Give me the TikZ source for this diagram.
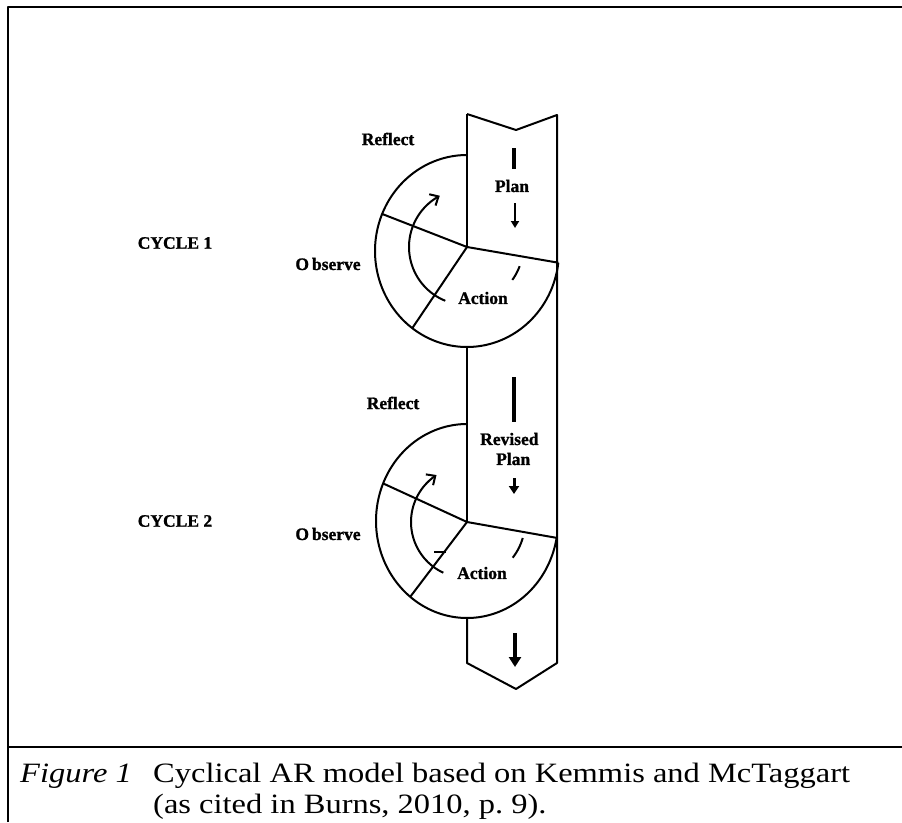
\documentclass[tikz,border=0pt]{standalone}
\usepackage{fontspec}
\setmainfont{Liberation Serif}
\newfontfamily\lblfont{Liberation Serif}[BoldFeatures={FakeBold=1.2}]
\usetikzlibrary{arrows.meta}
\begin{document}
\begin{tikzpicture}[x=1pt,y=-1pt,line join=round,
  frameline/.style={line width=2.5pt},
  diag/.style={line width=2pt},
  lbl/.style={font=\fontsize{17.5}{20}\lblfont\bfseries,inner sep=0pt},
  captxt/.style={font=\fontsize{28}{30}\selectfont,inner sep=0pt,anchor=base west,xscale=1.16},
  planbar/.style={line width=4.5pt},
  curvedarrow/.style={diag,-{Straight Barb[length=7pt,width=13pt]}},
  downarrow/.style n args={3}{-{Triangle[length=#2pt,width=#3pt]},line width=#1pt}]
\useasboundingbox (0,0) rectangle (902,822);

% frame with caption row
\draw[frameline] (8,822) -- (8,7) -- (902,7);
\draw[frameline] (8,747) -- (902,747);

% the big arrow running through both cycles
\coordinate (notchL) at (467,114);
\coordinate (notchM) at (516,130);
\coordinate (notchR) at (557,115);
\coordinate (tipL) at (467,663);
\coordinate (tipM) at (516,689);
\coordinate (tipR) at (557,663);
\coordinate (hub1) at (467,247);
\coordinate (hub2) at (467,522);
\coordinate (bot1) at (467,347);
\coordinate (bot2) at (467,618);

\draw[diag] (notchL) -- (notchM) -- (notchR) -- (tipR) -- (tipM) -- (tipL) -- (bot2);
\draw[diag] (notchL) -- (hub1);
\draw[diag] (bot1) -- (hub2);

% cycle 1 wheel
\coordinate (rim1) at ({467+92*cos(7)},{251+96*sin(7)});
\coordinate (ul1) at ({467+92*cos(202.7)},{251+96*sin(202.7)});
\coordinate (ll1) at ({467+92*cos(126.5)},{251+96*sin(126.5)});
\draw[diag] plot[domain=7:270,samples=90,smooth] ({467+92*cos(\x)},{251+96*sin(\x)});
\draw[diag] (hub1) -- (rim1);
\draw[diag] (hub1) -- (ul1);
\draw[diag] (hub1) -- (ll1);
\draw[curvedarrow] plot[domain=112:242,samples=40,smooth] ({467+58*cos(\x)},{247+58*sin(\x)});
\draw[diag] plot[domain=20:36,samples=8,smooth] ({467+56*cos(\x)},{247+56*sin(\x)});

% cycle 2 wheel
\coordinate (rim2) at ({467+91*cos(10)},{521+97*sin(10)});
\coordinate (ul2) at ({467+91*cos(202.8)},{521+97*sin(202.8)});
\coordinate (ll2) at ({467+91*cos(128.6)},{521+97*sin(128.6)});
\draw[diag] plot[domain=10:270,samples=90,smooth] ({467+91*cos(\x)},{521+97*sin(\x)});
\draw[diag] (hub2) -- (rim2);
\draw[diag] (hub2) -- (ul2);
\draw[diag] (hub2) -- (ll2);
\draw[curvedarrow] plot[domain=115:237,samples=40,smooth] ({467+56*cos(\x)},{522+56*sin(\x)});
\draw[diag] plot[domain=16:38,samples=8,smooth] ({467+58*cos(\x)},{522+58*sin(\x)});
\draw[diag] (434,552) -- (446,552);

% plan markers inside the arrow
\draw[planbar] (514,148) -- (514,169);
\draw[downarrow={2}{7}{8}] (515,203) -- (515,228);
\draw[planbar] (514,377) -- (514,422);
\draw[downarrow={3}{8}{10}] (514,478) -- (514,494);
\draw[downarrow={4}{10}{12}] (515,633) -- (515,667);

% labels
\node[lbl] (reflect1) at (388,139) {Reflect};
\node[lbl] (plan1) at (512,186) {Plan};
\node[lbl] (observe1) at (328,264) {O\hspace{3pt}bserve};
\node[lbl] (action1) at (483,298) {Action};
\node[lbl] (cycle1) at (175,243) {CYCLE 1};

\node[lbl] (reflect2) at (393,403) {Reflect};
\node[lbl,align=left,anchor=west] (plan2) at (480,449) {Revised\\\hspace*{16pt}Plan};
\node[lbl] (observe2) at (328,534) {O\hspace{3pt}bserve};
\node[lbl] (action2) at (482,573) {Action};
\node[lbl] (cycle2) at (175,521) {CYCLE 2};

% caption
\node[captxt,font=\fontsize{28}{30}\selectfont\itshape] (fig) at (20,782) {Figure 1};
\node[captxt] (cap1) at (153,782) {Cyclical AR model based on Kemmis and McTaggart};
\node[captxt] (cap2) at (153,813) {(as cited in Burns, 2010, p.~9).};
\end{tikzpicture}
\end{document}
